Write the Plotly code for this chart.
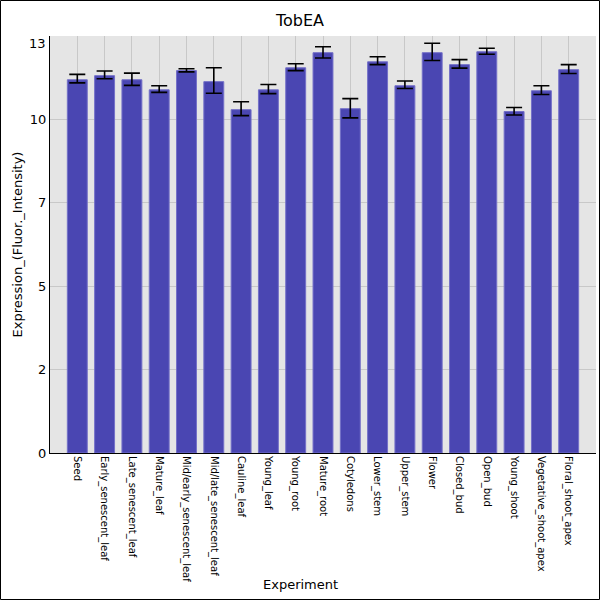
import plotly.graph_objects as go

# data
tissues = [
    "Seed", "Early_senescent_leaf", "Late_senescent_leaf", "Mature_leaf",
    "Mid/early_senescent_leaf", "Mid/late_senescent_leaf", "Cauline_leaf",
    "Young_leaf", "Young_root", "Mature_root", "Cotyledons", "Lower_stem",
    "Upper_stem", "Flower", "Closed_bud", "Open_bud", "Young_shoot",
    "Vegetative_shoot_apex", "Floral_shoot_apex",
]
expression = [11.86, 11.99, 11.86, 11.54, 12.15, 11.80, 10.91, 11.54, 12.24, 12.72,
              10.94, 12.43, 11.67, 12.72, 12.34, 12.75, 10.85, 11.51, 12.18]
err_plus = [0.17, 0.15, 0.21, 0.13, 0.06, 0.44, 0.25, 0.17, 0.13, 0.19,
            0.32, 0.16, 0.15, 0.30, 0.16, 0.11, 0.13, 0.16, 0.16]
err_minus = [0.10, 0.10, 0.18, 0.08, 0.04, 0.37, 0.19, 0.12, 0.09, 0.17,
             0.29, 0.09, 0.09, 0.25, 0.11, 0.08, 0.11, 0.12, 0.12]
ytick_vals = [0, 2.65, 5.3, 7.95, 10.6]
ytick_text = ["0", "2", "5", "7", "10"]

ML, MR, MT, MB = 50, 4, 36, 147
W, H = 600 - ML - MR, 600 - MT - MB

fig = go.Figure(go.Bar(
    x=tissues, y=expression, width=0.73,
    marker=dict(color="#4a46b2", line=dict(color="#7470c8", width=1)),
    error_y=dict(type="data", symmetric=False, array=err_plus, arrayminus=err_minus,
                 color="black", thickness=1.6, width=8),
))

fig.update_layout(
    width=600, height=600,
    margin=dict(l=ML, r=MR, t=MT, b=MB, autoexpand=False),
    paper_bgcolor="white", plot_bgcolor="#e5e5e5",
    font=dict(family="DejaVu Sans", size=12, color="black"),
    title=dict(text="TobEA", x=0.5, xanchor="center", y=0.966, yanchor="middle",
               font=dict(size=16)),
    showlegend=False,
)
fig.update_xaxes(
    range=[-1, 19], tickangle=90, tickfont=dict(size=10), automargin=False,
    showgrid=True, gridcolor="#c8c8c8", gridwidth=1,
    showline=True, linecolor="black", linewidth=1, ticks="",
)
fig.update_yaxes(
    range=[0, 13.25], tickvals=ytick_vals, ticktext=ytick_text, tickfont=dict(size=13),
    automargin=False,
    showgrid=True, gridcolor="#c8c8c8", gridwidth=1, zeroline=False,
    showline=True, linecolor="black", linewidth=1, ticks="",
    title=dict(text="Expression_(Fluor._Intensity)", font=dict(size=13), standoff=4),
)

# top label sits slightly below the top edge in the reference
fig.add_annotation(x=0, xref="paper", y=13.0, yref="y", text="13", showarrow=False,
                   xanchor="right", xshift=-2, font=dict(size=13))

# x axis title sits near the bottom of the picture
fig.add_annotation(x=(300 - ML) / W, xref="paper", y=(MT + H - 584) / H, yref="paper",
                   text="Experiment", showarrow=False, xanchor="center",
                   yanchor="middle", font=dict(size=13))

# thin black frame round the whole picture
fig.add_shape(type="rect", xref="paper", yref="paper",
              x0=(0.5 - ML) / W, x1=(599.5 - ML) / W,
              y0=(MT + H - 599.5) / H, y1=(MT + H - 0.5) / H,
              line=dict(color="black", width=1))

# drop the browser's default body margin so the figure fills the window
fig.write_html("out.html", config={"displayModeBar": False},
               post_script="document.body.style.margin='0';"
                           "document.body.style.overflow='hidden';")
